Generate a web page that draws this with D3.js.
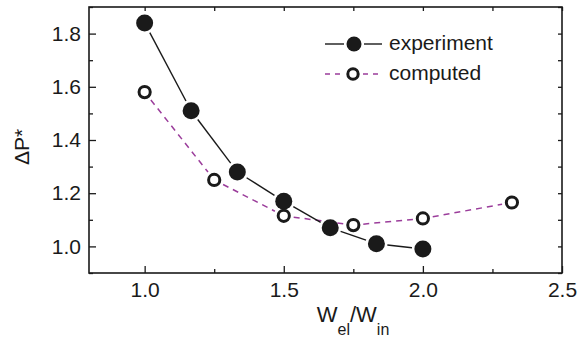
<!DOCTYPE html>
<html>
<head>
<meta charset="utf-8">
<script src="https://cdn.jsdelivr.net/npm/d3@7"></script>
<style>
  html, body { margin: 0; padding: 0; background: #fff; }
  svg { display: block; font-family: "Liberation Sans", Arial, Helvetica, sans-serif; }
</style>
</head>
<body>
<svg id="chart" width="578" height="341"></svg>
<script>
// Measured pressure drop vs. computed values
const expX  = [1.0, 1.167, 1.333, 1.5, 1.667, 1.833, 2.0];
const expY  = [1.84, 1.51, 1.28, 1.17, 1.07, 1.01, 0.99];
const compX = [1.0, 1.25, 1.5, 1.75, 2.0, 2.32];
const compY = [1.58, 1.25, 1.115, 1.08, 1.105, 1.165];

const xMajor = [1.0, 1.5, 2.0, 2.5];
const xMinor = [1.25, 1.75, 2.25];
const yMajor = [1.0, 1.2, 1.4, 1.6, 1.8];
const yMinor = [0.9, 1.1, 1.3, 1.5, 1.7, 1.9];

const legendLabels = ["experiment", "computed"];

const purple = "#9b3d9b";
const ink = "#1a1a1a";

const svg = d3.select("#chart");
const plotL = 89, plotR = 562, plotT = 7, plotB = 273;

const x = d3.scaleLinear().domain([0.8, 2.5]).range([plotL, plotR]);
const y = d3.scaleLinear().domain([0.9, 1.9]).range([plotB, plotT]);

const fmt = d3.format(".1f");

// Axes: inward ticks on all four sides
function styleAxis(g) {
  g.select(".domain").remove();
  g.selectAll("line").attr("stroke", ink).attr("stroke-width", 1.3);
  g.selectAll("text").attr("fill", ink).attr("font-size", 21)
    .attr("font-family", "Liberation Sans, Arial, sans-serif");
}

svg.append("g").attr("transform", `translate(0,${plotB})`)
  .call(d3.axisBottom(x).tickValues(xMajor).tickFormat(fmt).tickSizeInner(-7).tickSizeOuter(0).tickPadding(9))
  .call(styleAxis);
svg.append("g").attr("transform", `translate(0,${plotB})`)
  .call(d3.axisBottom(x).tickValues(xMinor).tickFormat("").tickSizeInner(-4).tickSizeOuter(0))
  .call(styleAxis);
svg.append("g").attr("transform", `translate(${plotL},0)`)
  .call(d3.axisLeft(y).tickValues(yMajor).tickFormat(fmt).tickSizeInner(-7).tickSizeOuter(0).tickPadding(8))
  .call(styleAxis);
svg.append("g").attr("transform", `translate(${plotL},0)`)
  .call(d3.axisLeft(y).tickValues(yMinor).tickFormat("").tickSizeInner(-4).tickSizeOuter(0))
  .call(styleAxis);
svg.append("g").attr("transform", `translate(0,${plotT})`)
  .call(d3.axisTop(x).tickValues(xMajor.concat(xMinor)).tickFormat("").tickSizeInner(-4).tickSizeOuter(0))
  .call(styleAxis);
svg.append("g").attr("transform", `translate(${plotR},0)`)
  .call(d3.axisRight(y).tickValues(yMajor.concat(yMinor)).tickFormat("").tickSizeInner(-4).tickSizeOuter(0))
  .call(styleAxis);

// Frame
svg.append("rect")
  .attr("x", plotL).attr("y", plotT)
  .attr("width", plotR - plotL).attr("height", plotB - plotT)
  .attr("fill", "none").attr("stroke", ink).attr("stroke-width", 1.6);

// Axis titles
svg.append("text")
  .attr("transform", `translate(29,147) rotate(-90)`)
  .attr("text-anchor", "middle")
  .attr("font-size", 21).attr("fill", ink)
  .text("\u0394P*");

const xt = svg.append("text")
  .attr("x", 353).attr("y", 322)
  .attr("text-anchor", "middle")
  .attr("font-size", 22).attr("fill", ink);
xt.append("tspan").text("W");
xt.append("tspan").attr("font-size", 16).attr("dy", 13).text("el");
xt.append("tspan").attr("dy", -13).text("/W");
xt.append("tspan").attr("font-size", 16).attr("dy", 13).text("in");

// Connecting segments stop short of the markers
function segments(g, xs, ys, gap, attrs) {
  for (let i = 0; i < xs.length - 1; i++) {
    const x1 = x(xs[i]), y1 = y(ys[i]), x2 = x(xs[i + 1]), y2 = y(ys[i + 1]);
    const dx = x2 - x1, dy = y2 - y1, L = Math.hypot(dx, dy);
    if (L <= 2 * gap) continue;
    const ux = dx / L, uy = dy / L;
    const ln = g.append("line")
      .attr("x1", x1 + ux * gap).attr("y1", y1 + uy * gap)
      .attr("x2", x2 - ux * gap).attr("y2", y2 - uy * gap);
    for (const k in attrs) ln.attr(k, attrs[k]);
  }
}

const lines = svg.append("g");
segments(lines, compX, compY, 10, { stroke: purple, "stroke-width": 1.5, "stroke-dasharray": "6,5" });
segments(lines, expX, expY, 11, { stroke: ink, "stroke-width": 1.4 });

// Markers
svg.append("g").selectAll("circle").data(expX.map((d, i) => [d, expY[i]]))
  .join("circle")
  .attr("cx", d => x(d[0])).attr("cy", d => y(d[1]))
  .attr("r", 8.5).attr("fill", ink);

svg.append("g").selectAll("circle").data(compX.map((d, i) => [d, compY[i]]))
  .join("circle")
  .attr("cx", d => x(d[0])).attr("cy", d => y(d[1]))
  .attr("r", 5.6).attr("fill", "#fff").attr("stroke", ink).attr("stroke-width", 3);

// Legend
const leg = svg.append("g");
const lx0 = 325, lxm = 354, lx1 = 382;
const rows = [44, 74];
// experiment
leg.append("line").attr("x1", lx0).attr("x2", lxm - 10).attr("y1", rows[0]).attr("y2", rows[0])
  .attr("stroke", ink).attr("stroke-width", 1.4);
leg.append("line").attr("x1", lxm + 10).attr("x2", lx1).attr("y1", rows[0]).attr("y2", rows[0])
  .attr("stroke", ink).attr("stroke-width", 1.4);
leg.append("circle").attr("cx", lxm).attr("cy", rows[0]).attr("r", 7.5).attr("fill", ink);
// computed
leg.append("line").attr("x1", lx0).attr("x2", lxm - 9).attr("y1", rows[1]).attr("y2", rows[1])
  .attr("stroke", purple).attr("stroke-width", 1.5).attr("stroke-dasharray", "5,5");
leg.append("line").attr("x1", lxm + 9).attr("x2", lx1).attr("y1", rows[1]).attr("y2", rows[1])
  .attr("stroke", purple).attr("stroke-width", 1.5).attr("stroke-dasharray", "5,5");
leg.append("circle").attr("cx", lxm - 1).attr("cy", rows[1]).attr("r", 5.2)
  .attr("fill", "#fff").attr("stroke", ink).attr("stroke-width", 3);

leg.selectAll("text").data(legendLabels).join("text")
  .attr("x", 389).attr("y", (d, i) => rows[i] + 6)
  .attr("font-size", 21).attr("fill", ink)
  .text(d => d);
</script>
</body>
</html>
